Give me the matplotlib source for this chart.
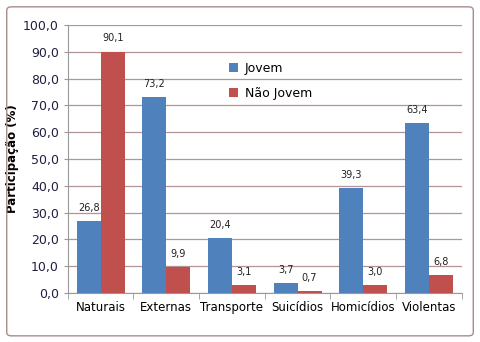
import matplotlib.pyplot as plt
import numpy as np
from matplotlib.patches import FancyBboxPatch

categorias = ['Naturais', 'Externas', 'Transporte', 'Suicídios', 'Homicídios', 'Violentas']
jovem = [26.8, 73.2, 20.4, 3.7, 39.3, 63.4]
nao_jovem = [90.1, 9.9, 3.1, 0.7, 3.0, 6.8]

azul = '#4F81BD'
vermelho = '#C0504D'

fig = plt.figure(figsize=(4.81, 3.42), dpi=100)
ax = fig.add_axes([0.141, 0.143, 0.819, 0.784])

# moldura arredondada em volta do grafico
moldura = FancyBboxPatch((0.014, 0.018), 0.97, 0.962, boxstyle='round,pad=0,rounding_size=0.01',
                         transform=fig.transFigure, fill=False, edgecolor='#a88c8c', linewidth=1.0)
fig.patches.append(moldura)

x = np.arange(len(categorias))
w = 0.365
b1 = ax.bar(x - w / 2, jovem, w, color=azul, label='Jovem', zorder=3)
b2 = ax.bar(x + w / 2, nao_jovem, w, color=vermelho, label='Não Jovem', zorder=3)

for barras, vals in ((b1, jovem), (b2, nao_jovem)):
    for b, v in zip(barras, vals):
        ax.text(b.get_x() + b.get_width() / 2, v + 3.0, f'{v:.1f}'.replace('.', ','),
                ha='center', va='bottom', fontsize=7, color='#222222')

ax.set_xlim(-0.5, len(categorias) - 0.5)
ax.set_ylim(0, 100)
ax.set_yticks(np.arange(0, 101, 10))
ax.set_yticklabels([f'{v:.1f}'.replace('.', ',') for v in np.arange(0, 101, 10)], fontsize=9, color='#1f1f3f')
ax.set_xticks(x)
ax.set_xticklabels(categorias, fontsize=8.5)
ax.set_xticks(np.arange(-0.5, len(categorias)), minor=True)
ax.tick_params(axis='x', which='major', length=0, pad=6)
ax.tick_params(axis='x', which='minor', length=4, color='#999999')
ax.tick_params(axis='y', length=3, color='#999999')

ax.grid(axis='y', color='#b39494', linewidth=0.9, zorder=0)
for s in ['top', 'right']:
    ax.spines[s].set_visible(False)
ax.spines['left'].set_color('#999999')
ax.spines['bottom'].set_color('#999999')

ax.set_ylabel('Participação (%)', fontsize=8.5, fontweight='bold', labelpad=3)

ax.legend(loc='upper left', bbox_to_anchor=(0.38, 0.905), frameon=False, fontsize=9,
          handlelength=0.7, handleheight=0.7, labelspacing=1.0, handletextpad=0.6)

fig.savefig('out.png', dpi=100)
